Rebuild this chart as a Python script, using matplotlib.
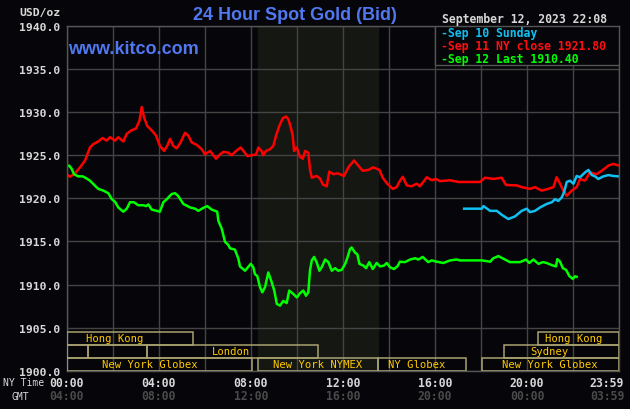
import matplotlib
matplotlib.use("Agg")
import matplotlib.pyplot as plt
from matplotlib.patches import Rectangle
from matplotlib.transforms import blended_transform_factory

# hours after 00:00 NY time, spot price
sep11_h = [0.00, 0.14, 0.36, 0.58, 0.80, 1.01, 1.16, 1.37, 1.56, 1.74, 1.88, 2.10, 2.24, 2.46,
           2.61, 2.82, 3.01, 3.16, 3.26, 3.36, 3.50, 3.69, 3.88, 4.05, 4.23, 4.37, 4.49, 4.63,
           4.78, 4.95, 5.14, 5.28, 5.43, 5.65, 5.87, 6.01, 6.23, 6.49, 6.66, 6.81, 7.02, 7.17,
           7.36, 7.56, 7.71, 7.85, 8.04, 8.23, 8.33, 8.47, 8.54, 8.66, 8.84, 8.98, 9.10, 9.24,
           9.39, 9.53, 9.63, 9.73, 9.82, 9.88, 10.00, 10.14, 10.26, 10.36, 10.50, 10.57, 10.65,
           10.86, 11.01, 11.13, 11.30, 11.41, 11.59, 11.76, 11.88, 12.05, 12.24, 12.49, 12.67,
           12.86, 13.11, 13.32, 13.59, 13.73, 13.93, 14.17, 14.34, 14.45, 14.60, 14.78, 14.99,
           15.21, 15.35, 15.65, 15.86, 16.05, 16.22, 16.66, 17.02, 17.96, 18.18, 18.54, 18.90,
           19.09, 19.56, 19.77, 20.13, 20.35, 20.64, 20.93, 21.15, 21.29, 21.44, 21.58, 21.73,
           21.95, 22.16, 22.31, 22.52, 22.74, 23.03, 23.25, 23.54, 23.75, 24.00]
sep11_p = [1922.8, 1922.5, 1922.9, 1923.6, 1924.4, 1925.9, 1926.3, 1926.6, 1927.0, 1926.7,
           1927.1, 1926.7, 1927.1, 1926.6, 1927.5, 1927.9, 1928.1, 1929.0, 1930.6, 1929.4,
           1928.4, 1927.9, 1927.3, 1926.1, 1925.5, 1926.1, 1926.9, 1926.1, 1925.8, 1926.5,
           1927.6, 1927.3, 1926.5, 1926.2, 1925.7, 1925.1, 1925.5, 1924.6, 1925.1, 1925.4,
           1925.3, 1925.0, 1925.5, 1925.9, 1925.4, 1924.9, 1925.0, 1925.1, 1925.9, 1925.5,
           1925.0, 1925.5, 1925.7, 1926.1, 1927.3, 1928.4, 1929.3, 1929.5, 1929.2, 1928.3,
           1927.3, 1925.5, 1925.9, 1924.8, 1924.6, 1925.5, 1925.3, 1923.4, 1922.4, 1922.6,
           1922.3, 1921.6, 1921.4, 1923.1, 1922.8, 1922.9, 1922.8, 1922.6, 1923.6, 1924.4,
           1923.8, 1923.2, 1923.3, 1923.6, 1923.3, 1922.4, 1921.7, 1921.1, 1921.3, 1921.9,
           1922.5, 1921.5, 1921.4, 1921.7, 1921.4, 1922.45, 1922.1, 1922.25, 1922.0, 1922.1,
           1921.9, 1921.9, 1922.4, 1922.25, 1922.4, 1921.55, 1921.5, 1921.3, 1921.1, 1921.3,
           1920.9, 1921.1, 1921.3, 1922.45, 1921.7, 1920.9, 1920.3, 1920.9, 1921.3, 1922.25,
           1922.05, 1923.0, 1922.8, 1923.2, 1923.8, 1924.0, 1923.8]

sep10_h = [17.27, 18.04, 18.11, 18.40, 18.69, 18.90, 19.19, 19.48, 19.77, 19.99, 20.13, 20.35,
           20.57, 20.86, 21.08, 21.22, 21.36, 21.51, 21.61, 21.73, 21.87, 22.02, 22.16, 22.31,
           22.52, 22.67, 22.82, 22.96, 23.10, 23.32, 23.54, 23.75, 24.00]
sep10_p = [1918.8, 1918.8, 1919.1, 1918.55, 1918.55, 1918.1, 1917.6, 1917.9, 1918.55, 1918.8,
           1918.4, 1918.55, 1918.95, 1919.35, 1919.55, 1919.9, 1919.7, 1920.1, 1920.7, 1921.9,
           1922.05, 1921.7, 1922.6, 1922.45, 1923.0, 1923.3, 1922.7, 1922.55, 1922.25, 1922.55,
           1922.7, 1922.6, 1922.55]

sep12_h = [0.00, 0.11, 0.22, 0.32, 0.50, 0.70, 0.87, 1.01, 1.16, 1.37, 1.59, 1.81, 1.96, 2.10,
           2.24, 2.46, 2.61, 2.75, 2.92, 3.11, 3.33, 3.45, 3.55, 3.69, 3.91, 4.05, 4.20, 4.35,
           4.56, 4.71, 4.85, 5.07, 5.36, 5.58, 5.72, 5.94, 6.11, 6.30, 6.54, 6.59, 6.74, 6.88,
           7.02, 7.10, 7.31, 7.46, 7.53, 7.75, 8.00, 8.11, 8.18, 8.28, 8.40, 8.50, 8.62, 8.76,
           8.91, 9.02, 9.13, 9.27, 9.41, 9.56, 9.67, 9.85, 10.00, 10.14, 10.28, 10.40, 10.50,
           10.57, 10.65, 10.75, 10.86, 10.98, 11.08, 11.23, 11.37, 11.52, 11.66, 11.80, 11.95,
           12.10, 12.19, 12.31, 12.38, 12.53, 12.63, 12.72, 12.89, 13.01, 13.15, 13.30, 13.47,
           13.62, 13.79, 13.91, 14.05, 14.22, 14.37, 14.48, 14.70, 14.92, 15.14, 15.28, 15.47,
           15.71, 15.86, 16.08, 16.37, 16.66, 16.95, 17.09, 18.04, 18.40, 18.54, 18.76, 18.97,
           19.26, 19.70, 19.96, 20.10, 20.28, 20.50, 20.69, 20.86, 21.08, 21.26, 21.32, 21.44,
           21.56, 21.70, 21.84, 21.99, 22.09, 22.16]
sep12_p = [1923.7, 1923.8, 1923.4, 1922.8, 1922.55, 1922.55, 1922.3, 1922.05, 1921.65, 1921.1,
           1920.9, 1920.6, 1919.9, 1919.6, 1918.95, 1918.45, 1918.8, 1919.55, 1919.55, 1919.2,
           1919.2, 1919.1, 1919.3, 1918.7, 1918.55, 1918.45, 1919.55, 1919.9, 1920.5, 1920.6,
           1920.25, 1919.35, 1918.95, 1918.8, 1918.55, 1918.9, 1919.1, 1918.7, 1918.45, 1917.4,
           1916.45, 1914.95, 1914.6, 1914.2, 1914.05, 1913.0, 1912.1, 1911.6, 1912.4, 1912.0,
           1911.2, 1911.0, 1909.7, 1909.1, 1909.7, 1911.4, 1910.25, 1909.3, 1907.75, 1907.55,
           1908.1, 1907.85, 1909.3, 1908.9, 1908.5, 1909.0, 1909.3, 1908.7, 1909.1, 1911.6,
           1912.8, 1913.2, 1912.6, 1911.6, 1912.0, 1912.9, 1912.6, 1911.6, 1911.9, 1911.6,
           1911.7, 1912.4, 1913.05, 1914.1, 1914.3, 1913.7, 1913.5, 1912.4, 1912.2, 1911.9,
           1912.6, 1911.8, 1912.5, 1912.1, 1912.2, 1912.5, 1912.0, 1911.8, 1912.1, 1912.65,
           1912.6, 1912.9, 1913.05, 1912.9, 1913.2, 1912.6, 1912.8, 1912.65, 1912.5, 1912.8,
           1912.9, 1912.8, 1912.8, 1912.65, 1913.05, 1913.3, 1913.0, 1912.6, 1912.6, 1912.9,
           1912.5, 1912.9, 1912.4, 1912.6, 1912.5, 1912.25, 1912.1, 1912.95, 1912.65, 1911.9,
           1911.7, 1911.0, 1910.65, 1910.95, 1910.9]

ny_labels = ["00:00", "04:00", "08:00", "12:00", "16:00", "20:00", "23:59"]
gmt_labels = ["04:00", "08:00", "12:00", "16:00", "20:00", "00:00", "03:59"]
label_hours = [0, 4, 8, 12, 16, 20, 23.48]
y_ticks = [1900, 1905, 1910, 1915, 1920, 1925, 1930, 1935, 1940]

# trading sessions: (row, start, end, label, label position)
sessions = [
    (0, 0.0, 5.48, "Hong Kong", 2.10),
    (0, 20.5, 24.0, "Hong Kong", 22.05),
    (1, 0.0, 0.94, "", 0),
    (1, 0.94, 3.48, "", 0),
    (1, 3.48, 10.94, "London", 7.12),
    (1, 19.0, 24.0, "Sydney", 20.98),
    (2, 0.0, 8.04, "New York Globex", 3.63),
    (2, 8.33, 13.52, "New York NYMEX", 10.9),
    (2, 13.52, 17.35, "NY Globex", 15.19),
    (2, 18.04, 24.0, "New York Globex", 20.99),
]

BG = "#060509"
GRID = "#444444"
MONO = "DejaVu Sans Mono"

fig = plt.figure(figsize=(6.3, 4.1), dpi=100, facecolor=BG)
ax = fig.add_axes([66.7 / 630, 1 - 371.7 / 410, (619 - 66.7) / 630, (371.7 - 27) / 410])
ax.set_facecolor(BG)
ax.set_xlim(0, 24)
ax.set_ylim(1900, 1940)

ax.axvspan(8.33, 13.52, color="#151713", zorder=0)

ax.set_xticks(range(0, 25, 2))
ax.set_yticks(y_ticks)
ax.set_yticklabels([f"{v:.1f}" for v in y_ticks], fontfamily=MONO, fontweight="bold",
                   fontsize=8.2, color="#d8d8d8")
ax.tick_params(length=0, labelbottom=False, pad=5)
ax.grid(True, color=GRID, linewidth=1.0, zorder=0.5)
ax.set_axisbelow(True)
for s in ax.spines.values():
    s.set_color("#555555")
    s.set_linewidth(1.0)

ax.plot(sep11_h, sep11_p, color="#ff0000", lw=1.8, zorder=2)
ax.plot(sep10_h, sep10_p, color="#10c0f0", lw=1.8, zorder=2)
ax.plot(sep12_h, sep12_p, color="#00ff00", lw=1.8, zorder=2)

row_bottoms = [1903.0, 1901.5, 1900.0]
for row, start, end, name, lx in sessions:
    ax.add_patch(Rectangle((start, row_bottoms[row]), end - start, 1.48, fill=False,
                           edgecolor="#a8a270", lw=1.1, zorder=3))
    if name:
        ax.text(lx, row_bottoms[row] + 0.74, name, ha="center", va="center", fontsize=7.6,
                fontfamily=MONO, color="#ffcc00", zorder=4)

# legend box top right
ax.add_patch(Rectangle((16, 1935.48), 8, 4.52, facecolor=BG, edgecolor="#555555", lw=1.0,
                       zorder=5))
legend_items = [("-Sep 10 Sunday", "#10c0f0"), ("-Sep 11 NY close 1921.80", "#ff1010"),
                ("-Sep 12 Last 1910.40", "#00ff00")]
for i, (txt, col) in enumerate(legend_items):
    fig.text(441 / 630, 1 - (34 + i * 12.7) / 410, txt, fontfamily=MONO, fontweight="bold",
             fontsize=8.3, color=col, va="center", ha="left", zorder=6)

fig.text(524 / 630, 1 - 19 / 410, "September 12, 2023 22:08", fontfamily=MONO,
         fontweight="bold", fontsize=8.3, color="#d8d8d8", ha="center", va="center")
fig.text(295 / 630, 1 - 15 / 410, "24 Hour Spot Gold (Bid)", fontfamily="Liberation Sans",
         fontweight="bold", fontsize=13, color="#5078f0", ha="center", va="center")
fig.text(68 / 630, 1 - 49 / 410, "www.kitco.com", fontfamily="Liberation Sans",
         fontweight="bold", fontsize=13, color="#5078f0", ha="left", va="center")
fig.text(40 / 630, 1 - 13 / 410, "USD/oz", fontfamily=MONO, fontweight="bold",
         fontsize=8.2, color="#d8d8d8", ha="center", va="center")

# time axis labels
trans = blended_transform_factory(ax.transData, ax.transAxes)
for h, ny, gmt in zip(label_hours, ny_labels, gmt_labels):
    ax.text(h, -0.0337, ny, transform=trans, ha="center", va="center", fontfamily=MONO,
            fontweight="bold", fontsize=8.3, color="#d8d8d8", clip_on=False)
    ax.text(h, -0.0725, gmt, transform=trans, ha="center", va="center", fontfamily=MONO,
            fontweight="bold", fontsize=8.3, color="#4a4a4a", clip_on=False)
fig.text(3 / 630, 1 - 383.3 / 410, "NY Time", fontfamily=MONO, fontsize=7,
         color="#d8d8d8", ha="left", va="center")
fig.text(20 / 630, 1 - 396.7 / 410, "GMT", fontfamily=MONO, fontsize=7,
         color="#d8d8d8", ha="center", va="center")

fig.savefig("out.png", dpi=100, facecolor=BG)
